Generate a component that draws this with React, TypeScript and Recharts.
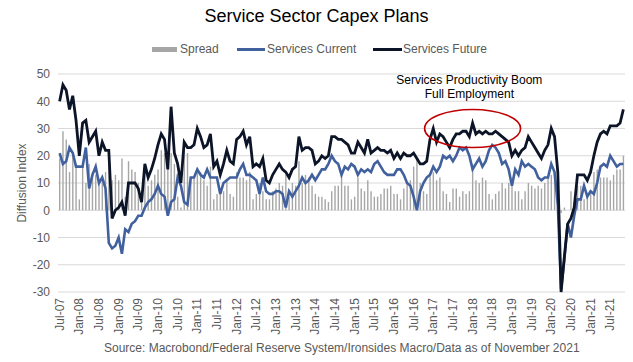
import {
  ComposedChart,
  Bar,
  Line,
  XAxis,
  YAxis,
  CartesianGrid,
  ReferenceDot,
} from "recharts";

// Monthly readings, Jul-07 through Nov-21
const FUTURE = [
  40, 46, 44, 37, 42, 33, 20, 32, 33, 25, 27, 29, 20, 25, 22, 22, -3, 0, 1, 3,
  -2, 10, 10, 10, 8, 3, 17, 12, 15, 19, 24, 28, 26, 15, 38, 21, 17, 10, 25, 23,
  23, 24, 30, 27, 23, 24, 28, 16, 18, 13, 17, 22, 18, 17, 26, 27, 29, 24, 27, 16,
  17, 16, 19, 11, 10, 13, 15, 17, 15, 14, 12, 15, 16, 27, 22, 23, 23, 22, 17, 18,
  20, 19, 20, 27, 27, 26, 26, 25, 24, 21, 21, 25, 23, 21, 26, 21, 22, 23, 22, 22,
  21, 22, 19, 21, 19, 21, 20, 20, 21, 19, 17, 17, 18, 26, 30, 25, 28, 27, 25, 23,
  26, 28, 28, 29, 29, 27, 32, 28, 29, 28, 29, 28, 28, 29, 28, 27, 26, 25, 20, 22,
  20, 22, 23, 27, 25, 23, 21, 19, 22, 24, 30, 27, 14, -30, -17, -5, -3, 1, 13, 13,
  13, 11, 14, 20, 25, 28, 29, 28, 31, 31, 31, 32, 37,
];

const CURRENT = [
  21, 17, 18, 23, 21, 16, 16, 16, 23, 8, 13, 16, 10, 12, 8, -12, -14, -13, -10, -16,
  -7, -8, -5, -4, -2, -2, 1, 3, 4, 6, 9, 6, 5, -2, 3, 4, 12, 9, 3, 2,
  12, 12, 15, 13, 12, 15, 12, 12, 12, 6, 10, 11, 12, 12, 12, 15, 17, 13, 13, 12,
  11, 6, 12, 7, 6, 6, 7, 7, 6, 1, 7, 5, 7, 9, 12, 10, 11, 13, 11, 13,
  15, 15, 17, 20, 18, 17, 13, 16, 15, 17, 16, 13, 15, 14, 15, 14, 17, 18, 16, 14,
  13, 13, 13, 15, 15, 13, 10, 9, 5, 0, 7, 10, 12, 13, 16, 14, 16, 20, 19, 20,
  18, 20, 23, 22, 23, 20, 15, 17, 19, 16, 18, 22, 24, 23, 21, 17, 18, 15, 9, 15,
  13, 18, 16, 17, 16, 15, 12, 11, 12, 12, 17, 14, 2, -29, -18, -5, -10, -2, 4, 4,
  9, 5, 7, 6, 10, 16, 17, 16, 20, 18, 16, 17, 17,
];

const SPREAD = [
  19, 29, 26, 14, 21, 17, 4, 16, 10, 17, 14, 13, 10, 13, 14, 22, 11, 13, 11, 19,
  5, 18, 15, 14, 10, 5, 16, 9, 11, 13, 15, 22, 21, 17, 21, 17, 5, 1, 22, 21,
  11, 12, 15, 14, 11, 9, 16, 4, 6, 7, 7, 11, 6, 5, 14, 12, 12, 11, 14, 4,
  6, 10, 7, 4, 4, 7, 8, 10, 9, 13, 5, 10, 9, 18, 10, 13, 12, 9, 6, 5,
  5, 4, 3, 7, 9, 9, 13, 9, 9, 4, 5, 12, 8, 7, 11, 7, 5, 5, 6, 8,
  8, 9, 6, 6, 4, 8, 10, 11, 16, 19, 10, 7, 6, 13, 14, 11, 12, 7, 6, 3,
  8, 8, 5, 7, 6, 7, 17, 11, 10, 12, 11, 6, 4, 6, 7, 10, 8, 10, 11, 7,
  7, 4, 7, 10, 9, 8, 9, 8, 10, 12, 13, 13, 12, -1, 1, 0, 7, 3, 9, 9,
  4, 6, 7, 14, 15, 12, 12, 12, 11, 13, 15, 15, 20,
];

const MONTH_NAMES = ["Jan", "Feb", "Mar", "Apr", "May", "Jun", "Jul", "Aug", "Sep", "Oct", "Nov", "Dec"];

// a label every six months: Jul-07, Jan-08 ... Jul-21
const TICK_EVERY = 6;

const Y_TICKS = [-30, -20, -10, 0, 10, 20, 30, 40, 50];

const FONT = "'Liberation Sans', Arial, sans-serif";
const GREY_TEXT = "#595959";
const BLUE = "#41609e";
const NAVY = "#0c1427";
const BAR_GREY = "#a6a6a6";

function monthLabel(i: number): string {
  const m = (6 + i) % 12;
  const yy = 7 + Math.floor((6 + i) / 12);
  return `${MONTH_NAMES[m]}-${String(yy).padStart(2, "0")}`;
}

const data = FUTURE.map((f, i) => ({
  month: monthLabel(i),
  spread: SPREAD[i],
  current: CURRENT[i],
  future: f,
}));

function XTick(props: any) {
  const { x, y, payload } = props;
  return (
    <text
      x={x}
      y={y}
      dy={4}
      transform={`rotate(-90 ${x} ${y})`}
      textAnchor="end"
      fontSize={12}
      fontFamily={FONT}
      fill={GREY_TEXT}
    >
      {payload.value}
    </text>
  );
}

function Ellipse(props: any) {
  const { cx, cy } = props;
  return <ellipse cx={cx} cy={cy} rx={48} ry={19} fill="none" stroke="#c00000" strokeWidth={1.6} />;
}

function Note(props: any) {
  const { cx, cy } = props;
  return (
    <text x={cx} y={cy} textAnchor="middle" fontSize={12} fontFamily={FONT} fill="#000">
      <tspan x={cx} dy={5}>Services Productivity Boom</tspan>
      <tspan x={cx} dy={14}>Full Employment</tspan>
    </text>
  );
}

export default function App() {
  return (
    <div style={{ position: "absolute", left: 0, top: 0, width: 633, height: 362, background: "#fff", fontFamily: FONT }}>
      <div style={{ position: "absolute", left: 0, top: 6, width: 633, textAlign: "center", fontSize: 18, color: "#000" }}>
        Service Sector Capex Plans
      </div>

      {/* legend */}
      <div style={{ position: "absolute", left: 152, top: 47, width: 25, height: 5, background: BAR_GREY }} />
      <div style={{ position: "absolute", left: 180, top: 41, fontSize: 12, lineHeight: "16px", color: GREY_TEXT }}>Spread</div>
      <div style={{ position: "absolute", left: 237, top: 48, width: 28, height: 3, background: BLUE }} />
      <div style={{ position: "absolute", left: 267, top: 41, fontSize: 12, lineHeight: "16px", color: GREY_TEXT }}>Services Current</div>
      <div style={{ position: "absolute", left: 373, top: 48, width: 29, height: 3, background: NAVY }} />
      <div style={{ position: "absolute", left: 403, top: 41, fontSize: 12, lineHeight: "16px", color: GREY_TEXT }}>Services Future</div>

      <div
        style={{
          position: "absolute",
          left: -28,
          top: 176,
          width: 100,
          height: 14,
          lineHeight: "14px",
          textAlign: "center",
          fontSize: 12,
          color: GREY_TEXT,
          transform: "rotate(-90deg)",
        }}
      >
        Diffusion Index
      </div>

      <ComposedChart
        width={633}
        height={362}
        data={data}
        margin={{ top: 74, right: 8, left: 14, bottom: 0 }}
        barCategoryGap={0}
        style={{ position: "absolute", left: 0, top: 0 }}
      >
        <CartesianGrid vertical={false} stroke="#d9d9d9" />
        <XAxis
          dataKey="month"
          interval={TICK_EVERY - 1}
          height={70}
          tickSize={0}
          tickMargin={6}
          axisLine={false}
          tickLine={false}
          tick={<XTick />}
        />
        <YAxis
          domain={[-30, 50]}
          ticks={Y_TICKS}
          width={44}
          axisLine={false}
          tickLine={false}
          tick={{ fontSize: 12, fill: GREY_TEXT, fontFamily: FONT }}
        />
        <Bar dataKey="spread" fill={BAR_GREY} barSize={1.4} isAnimationActive={false} />
        <Line type="linear" dataKey="current" stroke={BLUE} strokeWidth={2.6} dot={false} isAnimationActive={false} />
        <Line type="linear" dataKey="future" stroke={NAVY} strokeWidth={2.8} dot={false} isAnimationActive={false} />
        <ReferenceDot x="Jan-18" y={30} shape={<Ellipse />} ifOverflow="visible" />
        <ReferenceDot x="Dec-17" y={48} shape={<Note />} ifOverflow="visible" />
      </ComposedChart>

      <div style={{ position: "absolute", left: 104, top: 340, fontSize: 12, lineHeight: "16px", color: GREY_TEXT }}>
        Source: Macrobond/Federal Reserve System/Ironsides Macro/Data as of November 2021
      </div>
    </div>
  );
}
